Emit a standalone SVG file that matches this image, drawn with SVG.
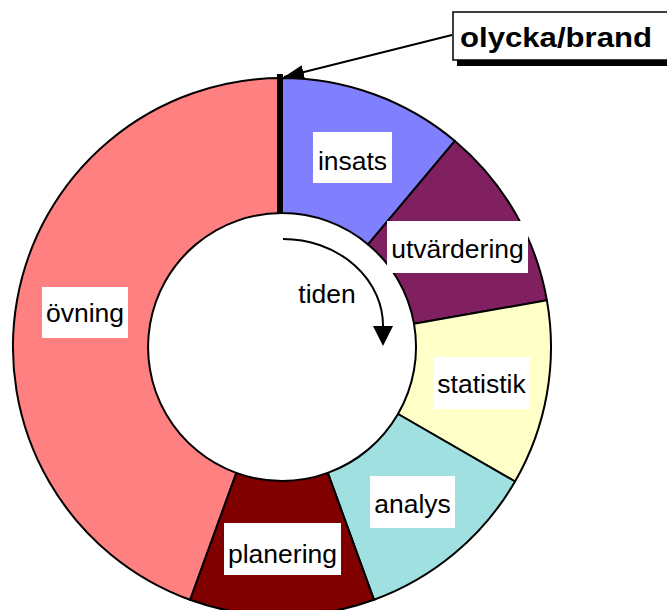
<svg xmlns="http://www.w3.org/2000/svg" width="667" height="610" viewBox="0 0 667 610">
  <style>
    .seg { stroke: #000; stroke-width: 2; stroke-linejoin: round; }
    .lbl-box { fill: #fff; stroke: none; }
    .lbl { font-family: "Liberation Sans", Arial, sans-serif; font-size: 26.5px; fill: #000; text-anchor: middle; }
    .conn { fill: none; stroke: #000; stroke-width: 2; }
  </style>
  <defs>
    <marker id="head" viewBox="0 0 20 14" refX="20" refY="7" markerWidth="20" markerHeight="14" markerUnits="userSpaceOnUse" orient="auto">
      <path d="M0,0 L20,7 L0,14 Z" fill="#000"/>
    </marker>
  </defs>
  <rect width="667" height="610" fill="#fff"/>

  <!-- ring segments, clockwise from the top -->
  <g id="insats">
    <path class="seg" fill="#8080FF" d="M282,78 A269,269 0 0 1 454.9,140.9 L368.1,244.4 A134,134 0 0 0 282,213 Z"/>
    <rect class="lbl-box" x="313" y="132" width="79" height="51"/>
    <text class="lbl" x="352.5" y="170">insats</text>
  </g>
  <g id="utvardering">
    <path class="seg" fill="#802060" d="M454.9,140.9 A269,269 0 0 1 546.9,300.3 L414,323.7 A134,134 0 0 0 368.1,244.4 Z"/>
    <rect class="lbl-box" x="387" y="221" width="141" height="52"/>
    <text class="lbl" x="457.5" y="258">utvärdering</text>
  </g>
  <g id="statistik">
    <path class="seg" fill="#FFFFC8" d="M546.9,300.3 A269,269 0 0 1 515,481.5 L398,414 A134,134 0 0 0 414,323.7 Z"/>
    <rect class="lbl-box" x="433" y="357" width="97" height="52"/>
    <text class="lbl" x="481.5" y="393">statistik</text>
  </g>
  <g id="analys">
    <path class="seg" fill="#A0E0E0" d="M515,481.5 A269,269 0 0 1 374,599.8 L327.8,472.9 A134,134 0 0 0 398,414 Z"/>
    <rect class="lbl-box" x="370" y="476" width="85" height="52"/>
    <text class="lbl" x="412.5" y="513">analys</text>
  </g>
  <g id="planering">
    <path class="seg" fill="#800000" d="M374,599.8 A269,269 0 0 1 190,599.8 L236.2,472.9 A134,134 0 0 0 327.8,472.9 Z"/>
    <rect class="lbl-box" x="224" y="523" width="117" height="52"/>
    <text class="lbl" x="282.5" y="563">planering</text>
  </g>
  <g id="ovning">
    <path class="seg" fill="#FF8080" d="M190,599.8 A269,269 0 0 1 282,78 L282,213 A134,134 0 0 0 236.2,472.9 Z"/>
    <rect class="lbl-box" x="42" y="287" width="86" height="51"/>
    <text class="lbl" x="85" y="322">övning</text>
  </g>

  <!-- start marker on the ring -->
  <g id="start">
    <rect x="277" y="74" width="6" height="139" fill="#000"/>
  </g>

  <!-- callout box -->
  <g id="olycka-brand">
    <rect x="457" y="17" width="220" height="49" fill="#000"/>
    <rect x="453" y="12" width="220" height="48" fill="#fff" stroke="#000" stroke-width="1.5"/>
    <text x="460" y="47" font-family="Liberation Sans, Arial, sans-serif" font-size="27" font-weight="bold" textLength="192" lengthAdjust="spacingAndGlyphs">olycka/brand</text>
  </g>

  <!-- time label in the centre -->
  <g id="tiden">
    <text class="lbl" x="327" y="303">tiden</text>
  </g>

  <g id="connectors">
    <path class="conn" d="M452,35 L284,77" marker-end="url(#head)"/>
    <path class="conn" d="M283,239 A100,87 0 0 1 383,328"/>
    <path d="M373,326 L393,326 L383,346 Z" fill="#000"/>
  </g>
</svg>
